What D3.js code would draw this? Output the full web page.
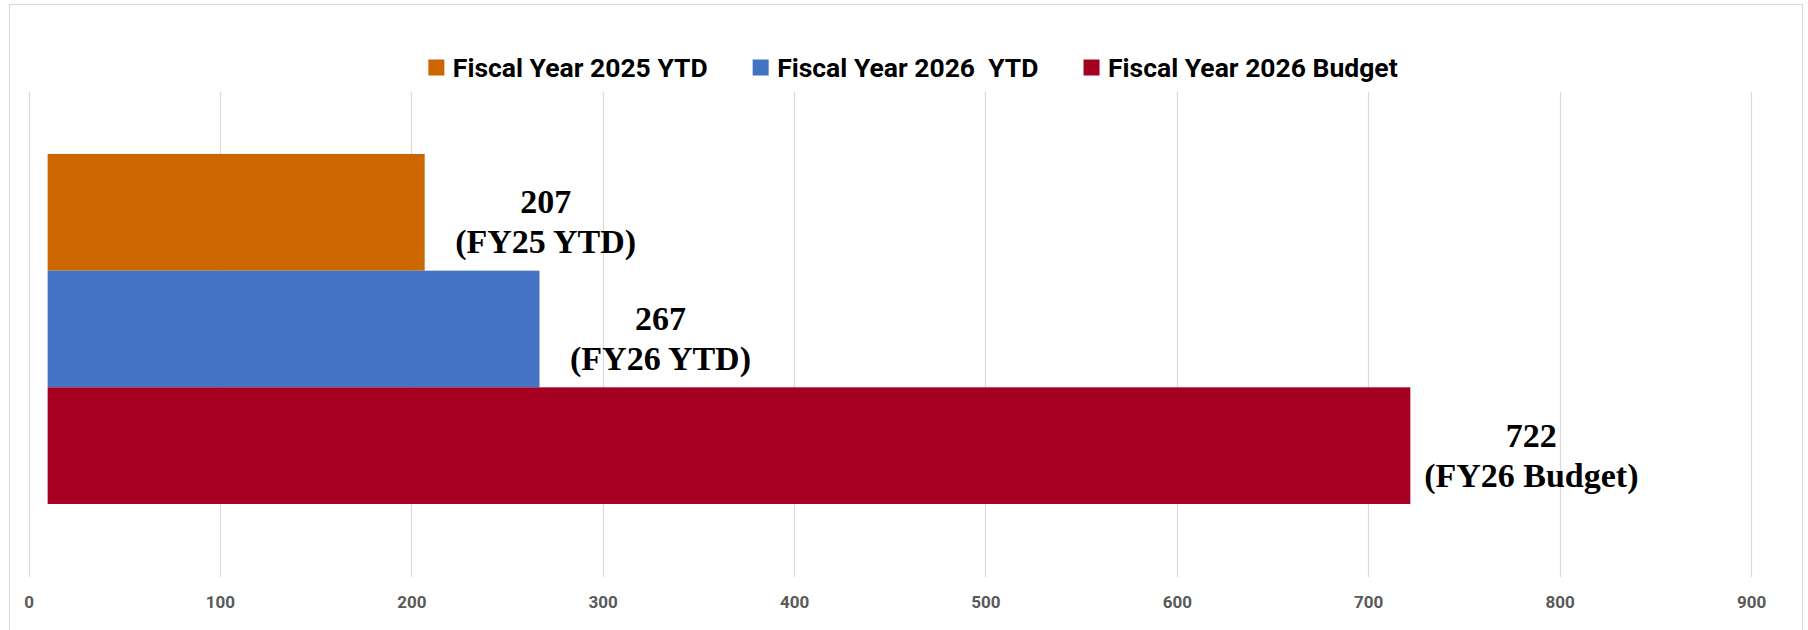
<!DOCTYPE html>
<html>
<head>
<meta charset="utf-8">
<script src="https://cdn.jsdelivr.net/npm/d3@7"></script>
<style>
  body { margin: 0; background: #ffffff; }
  svg { display: block; }
</style>
</head>
<body>
<div id="chart"></div>
<script>
// chart data
const categories = ["Fiscal Year 2025 YTD", "Fiscal Year 2026  YTD", "Fiscal Year 2026 Budget"];
const values = [207, 267, 722];
const labelTags = ["(FY25 YTD)", "(FY26 YTD)", "(FY26 Budget)"];
const colors = ["#CC6600", "#4472C4", "#A50021"];
const xTicks = [0, 100, 200, 300, 400, 500, 600, 700, 800, 900];
const baseValue = 10; // bars start a little right of the 0 line in the source

const width = 1808;
const height = 630;

const svg = d3
  .select("#chart")
  .append("svg")
  .attr("width", width)
  .attr("height", height);

// outer chart border
svg
  .append("rect")
  .attr("x", 9.5)
  .attr("y", 4.5)
  .attr("width", 1793)
  .attr("height", 640)
  .attr("fill", "#ffffff")
  .attr("stroke", "#d9d9d9");

// scales
const plotTop = 92;
const plotBottom = 577;
const x = d3.scaleLinear().domain([0, 900]).range([28.5, 1751]);
const y = d3.scaleBand().domain(categories).range([154, 504]).padding(0);

// gridlines
svg
  .append("g")
  .attr("class", "grid")
  .selectAll("line")
  .data(xTicks)
  .join("line")
  .attr("x1", (d) => Math.round(x(d)) + 0.5)
  .attr("x2", (d) => Math.round(x(d)) + 0.5)
  .attr("y1", plotTop)
  .attr("y2", plotBottom)
  .attr("stroke", "#d9d9d9")
  .attr("stroke-width", 1.2);

// x axis labels
const xAxis = d3
  .axisBottom(x)
  .tickValues(xTicks)
  .tickSize(0)
  .tickPadding(0)
  .tickFormat(d3.format("d"));
const axisG = svg
  .append("g")
  .attr("transform", `translate(0, ${plotBottom})`)
  .call(xAxis);
axisG.select(".domain").remove();
axisG
  .selectAll("text")
  .attr("y", 31)
  .attr("dy", 0)
  .attr("fill", "#595959")
  .attr("font-family", "Roboto, 'Open Sans', sans-serif")
  .attr("font-weight", "bold")
  .attr("font-size", 17);

// bars
svg
  .append("g")
  .selectAll("rect")
  .data(values)
  .join("rect")
  .attr("x", x(baseValue))
  .attr("y", (d, i) => y(categories[i]))
  .attr("width", (d) => x(d) - x(baseValue))
  .attr("height", y.bandwidth())
  .attr("fill", (d, i) => colors[i]);

// data labels
const labels = svg
  .append("g")
  .selectAll("text")
  .data(values)
  .join("text")
  .attr("text-anchor", "middle")
  .attr("font-family", "'Liberation Serif', 'Times New Roman', serif")
  .attr("font-weight", "bold")
  .attr("font-size", 34)
  .attr("fill", "#000000");
labels
  .append("tspan")
  .attr("x", (d) => x(d) + 121)
  .attr("y", (d, i) => y(categories[i]) + y.bandwidth() / 2 + 1)
  .text((d) => d);
labels
  .append("tspan")
  .attr("x", (d) => x(d) + 121)
  .attr("y", (d, i) => y(categories[i]) + y.bandwidth() / 2 + 41)
  .text((d, i) => labelTags[i]);

// legend
const legend = svg.append("g").attr("class", "legend");
const items = legend
  .selectAll("g")
  .data(categories)
  .join("g");
items
  .append("rect")
  .attr("width", 16)
  .attr("height", 16)
  .attr("y", 59.5)
  .attr("fill", (d, i) => colors[i]);
items
  .append("text")
  .attr("x", 24.5)
  .attr("y", 76.7)
  .style("white-space", "pre")
  .attr("font-family", "Roboto, 'Open Sans', sans-serif")
  .attr("font-weight", "bold")
  .attr("font-size", 26.5)
  .attr("fill", "#000000")
  .text((d) => d);

// lay legend items out in a row centred on the chart
let offsets = [];
let cursor = 0;
items.each(function () {
  offsets.push(cursor);
  let w = d3.select(this).select("text").node().getComputedTextLength();
  cursor += 24.5 + w + 45;
});
let total = cursor - 45;
let start = 913 - total / 2;
items.attr("transform", (d, i) => `translate(${start + offsets[i]}, 0)`);
</script>
</body>
</html>
